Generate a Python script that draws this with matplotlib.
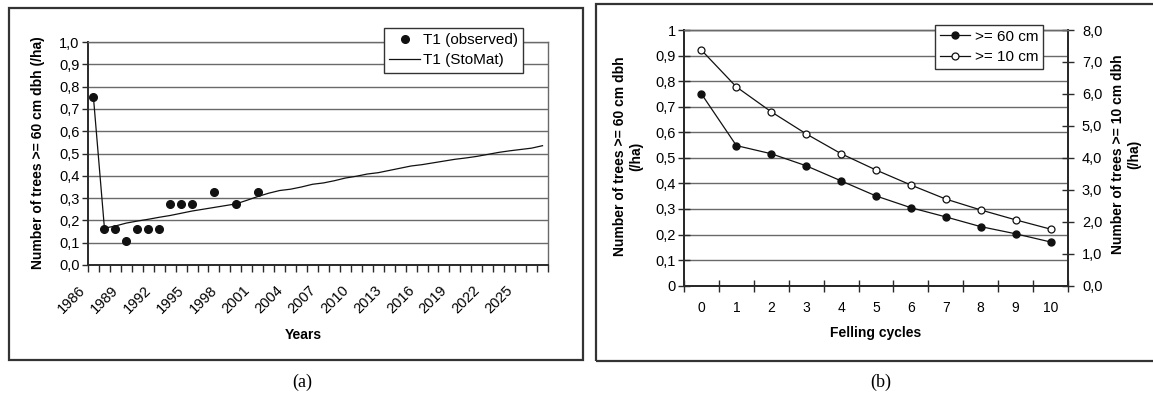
import matplotlib
matplotlib.use('Agg')
import matplotlib.pyplot as plt
import matplotlib.transforms as transforms
from matplotlib.patches import Rectangle
from matplotlib.ticker import FixedLocator, FuncFormatter

plt.rcParams['font.family'] = ['Liberation Sans', 'DejaVu Sans']

# panel (a): observed vs StoMat, years 1986..2027
years = list(range(1986, 2028))
obs_idx = [0, 1, 2, 3, 4, 5, 6, 7, 8, 9, 11, 13, 15]
obs_val = [0.755, 0.163, 0.163, 0.109, 0.163, 0.163, 0.163, 0.272, 0.272, 0.272, 0.326, 0.272, 0.326]
stomat = [0.75, 0.165, 0.175, 0.188, 0.197, 0.205, 0.214, 0.222, 0.232, 0.242,
          0.250, 0.258, 0.266, 0.274, 0.290, 0.307, 0.322, 0.334, 0.340, 0.350,
          0.362, 0.368, 0.378, 0.390, 0.398, 0.408, 0.414, 0.424, 0.434, 0.444,
          0.450, 0.458, 0.466, 0.474, 0.480, 0.487, 0.496, 0.505, 0.512, 0.518,
          0.524, 0.535]

# panel (b): felling cycles
cycles = list(range(11))
trees60 = [0.75, 0.548, 0.516, 0.469, 0.41, 0.351, 0.305, 0.269, 0.231, 0.203, 0.171]
trees10 = [7.37, 6.22, 5.44, 4.75, 4.13, 3.62, 3.15, 2.71, 2.37, 2.06, 1.77]

W, H = 1153, 396
fig = plt.figure(figsize=(W / 100, H / 100), dpi=100)

def fx(px):
    return px / W

def fy(py):
    return 1 - py / H

grid_col = '#6a6a6a'
axis_col = '#2a2a2a'
fs = 10

# outer frames
fig.patches.append(Rectangle((fx(9), fy(360)), fx(574), 352 / H, transform=fig.transFigure,
                             fill=False, edgecolor='#333333', lw=1.6))
fig.patches.append(Rectangle((fx(596), fy(361)), fx(600), 357 / H, transform=fig.transFigure,
                             fill=False, edgecolor='#333333', lw=1.6))

# ---------------- panel (a) ----------------
ax1 = fig.add_axes([fx(88), fy(265), fx(460), 223 / H])
ax1.plot(range(len(stomat)), stomat, color='#111111', lw=0.9, label='T1 (StoMat)', zorder=3)
ax1.plot(obs_idx, obs_val, 'o', color='#111111', ms=5.5, label='T1 (observed)', zorder=4)
ax1.set_xlim(-0.5, len(years) - 0.5)
ax1.set_ylim(0, 1.0)
for v in [i / 10 for i in range(1, 11)]:
    ax1.axhline(v, color=grid_col, lw=1.0, zorder=1)
ax1.set_yticks([i / 10 for i in range(11)])
ax1.yaxis.set_major_formatter(FuncFormatter(lambda v, p: ('%.1f' % v).replace('.', ',')))
ax1.tick_params(axis='y', direction='out', length=4, width=1, pad=2, labelsize=10.5, color=axis_col)
lab_pos = list(range(0, len(years), 3))
ax1.xaxis.set_major_locator(FixedLocator(lab_pos))
ax1.set_xticklabels([str(years[i]) for i in lab_pos], rotation=45, ha='right')
ax1.xaxis.set_minor_locator(FixedLocator([i - 0.5 for i in range(len(years) + 1)]))
ax1.tick_params(axis='x', which='major', length=0, pad=13, labelsize=10.5)
ax1.tick_params(axis='x', which='minor', direction='out', length=5, width=1, color=axis_col)
shift = transforms.ScaledTranslation(-5 / 100, 0, fig.dpi_scale_trans)
for t in ax1.get_xticklabels():
    t.set_transform(t.get_transform() + shift)
for s in ['top', 'right']:
    ax1.spines[s].set_color(grid_col)
    ax1.spines[s].set_linewidth(1.0)
for s in ['left', 'bottom']:
    ax1.spines[s].set_color(axis_col)
    ax1.spines[s].set_linewidth(1.4)
h, l = ax1.get_legend_handles_labels()
leg1 = ax1.legend([h[1], h[0]], [l[1], l[0]], loc='upper left',
                  bbox_to_anchor=(fx(384), fy(28)), bbox_transform=fig.transFigure,
                  fancybox=False, edgecolor='#333333', framealpha=1, fontsize=11,
                  handlelength=2.0, handletextpad=0.2, borderpad=0.35, labelspacing=0.4,
                  borderaxespad=0)
leg1.get_frame().set_linewidth(1.0)

fig.text(fx(38), fy(153), 'Number of trees >= 60 cm dbh (/ha)', rotation=90,
         ha='center', va='center', fontsize=fs, fontweight='bold')
fig.text(fx(303), fy(335), 'Years', ha='center', va='center', fontsize=fs, fontweight='bold')

# ---------------- panel (b) ----------------
ax2 = fig.add_axes([fx(684), fy(285.7), fx(384), 255.7 / H])
ax2.set_xlim(-0.5, 10.5)
ax2.set_ylim(0, 1)
for v in [i / 10 for i in range(1, 11)]:
    ax2.axhline(v, color=grid_col, lw=1.0, zorder=1)
ax2b = ax2.twinx()
ax2b.set_ylim(0, 8)
l60, = ax2.plot(cycles, trees60, '-o', color='#111111', lw=0.9, ms=5,
                markerfacecolor='#111111', label='>= 60 cm', zorder=4)
l10, = ax2b.plot(cycles, trees10, '-o', color='#111111', lw=0.9, ms=5,
                 markerfacecolor='white', markeredgewidth=0.9, label='>= 10 cm', zorder=4)

ax2.set_yticks([i / 10 for i in range(11)])
ax2.yaxis.set_major_formatter(FuncFormatter(
    lambda v, p: '0' if v == 0 else ('1' if abs(v - 1) < 1e-9 else ('%.1f' % v).replace('.', ','))))
ax2.tick_params(axis='y', direction='inout', length=8, width=1, pad=2, labelsize=10.5, color=axis_col)
ax2b.set_yticks(range(9))
ax2b.yaxis.set_major_formatter(FuncFormatter(lambda v, p: ('%.1f' % v).replace('.', ',')))
ax2b.tick_params(axis='y', direction='inout', length=8, width=1, pad=6, labelsize=10.5, color=axis_col)

ax2.xaxis.set_major_locator(FixedLocator(cycles))
ax2.xaxis.set_minor_locator(FixedLocator([i - 0.5 for i in range(12)]))
ax2.tick_params(axis='x', which='major', length=0, pad=11, labelsize=fs)
ax2.tick_params(axis='x', which='minor', direction='inout', length=9, width=1, color=axis_col)
for a in (ax2, ax2b):
    a.spines['top'].set_color(grid_col)
    a.spines['top'].set_linewidth(1.0)
    for s in ['left', 'bottom', 'right']:
        a.spines[s].set_color(axis_col)
        a.spines[s].set_linewidth(1.4)

leg2 = ax2b.legend([l60, l10], ['>= 60 cm', '>= 10 cm'], loc='upper left',
                   bbox_to_anchor=(fx(935), fy(25)), bbox_transform=fig.transFigure,
                   fancybox=False, edgecolor='#333333', framealpha=1, fontsize=11,
                   handlelength=2.0, handletextpad=0.3, borderpad=0.3, labelspacing=0.45,
                   borderaxespad=0)
leg2.get_frame().set_linewidth(1.0)

fig.text(fx(628), fy(156), 'Number of trees >= 60 cm dbh\n(/ha)', rotation=90,
         ha='center', va='center', fontsize=fs, fontweight='bold', multialignment='center')
fig.text(fx(1126), fy(154), 'Number of trees >= 10 cm dbh\n(/ha)', rotation=90,
         ha='center', va='center', fontsize=fs, fontweight='bold', multialignment='center')
fig.text(fx(876), fy(333), 'Felling cycles', ha='center', va='center', fontsize=fs, fontweight='bold')

# panel captions
fig.text(fx(302), fy(382), '(a)', ha='center', va='center', fontsize=13, family='Liberation Serif')
fig.text(fx(881), fy(382), '(b)', ha='center', va='center', fontsize=13, family='Liberation Serif')

plt.savefig('out.png', dpi=100)
